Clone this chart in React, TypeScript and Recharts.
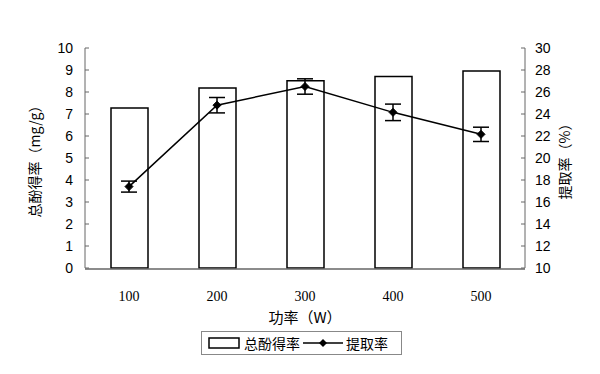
import { ComposedChart, Bar, Line, XAxis, YAxis, ErrorBar } from "recharts";

const powers = ["100", "200", "300", "400", "500"];
const phenolYield = [7.27, 8.18, 8.51, 8.7, 8.95];
const extractRate = [17.4, 24.8, 26.5, 24.15, 22.15];
const extractErr = [0.5, 0.7, 0.7, 0.75, 0.65];
const leftTicks = [0, 1, 2, 3, 4, 5, 6, 7, 8, 9, 10];
const rightTicks = [10, 12, 14, 16, 18, 20, 22, 24, 26, 28, 30];
const bandTicks = [0, 1, 2, 3, 4, 5];

const data = powers.map((p, i) => ({
  power: p,
  idx: i + 0.5,
  phenol: phenolYield[i],
  rate: extractRate[i],
  err: extractErr[i],
}));

const CJK = "'Noto Sans CJK SC', 'Noto Sans', sans-serif";
const SANS = "'Liberation Sans', Arial, sans-serif";
const SERIF = "'Liberation Serif', 'Times New Roman', serif";
const AXIS = "#666";

const Diamond = (props: any) => {
  const { cx, cy } = props;
  if (cx == null || cy == null) return null;
  const r = 4;
  return (
    <path
      d={`M${cx},${cy - r}L${cx + r},${cy}L${cx},${cy + r}L${cx - r},${cy}Z`}
      fill="#000"
      stroke="#000"
    />
  );
};

const LegendBox = () => (
  <div
    style={{
      position: "absolute",
      left: 201,
      top: 331,
      display: "flex",
      alignItems: "center",
      border: "1px solid #888",
      height: 24,
      width: 201,
      boxSizing: "border-box",
      fontFamily: CJK,
      fontSize: 14,
      color: "#000",
      paddingLeft: 6,
    }}
  >
    <svg width={32} height={12} style={{ marginRight: 4 }}>
      <rect x={1} y={1} width={30} height={10} fill="#fff" stroke="#000" strokeWidth={1.5} />
    </svg>
    <span style={{ marginRight: 3 }}>总酚得率</span>
    <svg width={40} height={12} style={{ marginRight: 3 }}>
      <line x1={0} y1={6} x2={40} y2={6} stroke="#000" strokeWidth={1.5} />
      <path d="M20,2L24,6L20,10L16,6Z" fill="#000" />
    </svg>
    <span>提取率</span>
  </div>
);

export default function App() {
  return (
    <div style={{ position: "absolute", left: 0, top: 0, width: 600, height: 374, background: "#fff" }}>
      <ComposedChart
        width={600}
        height={374}
        data={data}
        margin={{ top: 48, right: 15, bottom: 75, left: 25 }}
      >
        <XAxis
          xAxisId="band"
          type="number"
          dataKey="idx"
          domain={[0, 5]}
          ticks={bandTicks}
          tick={false}
          tickSize={-4}
          axisLine={false}
          tickLine={{ stroke: AXIS }}
          height={1}
        />
        <XAxis
          dataKey="power"
          xAxisId="cat"
          height={30}
          tickLine={false}
          axisLine={{ stroke: AXIS, strokeWidth: 1.5 }}
          tick={{ fontFamily: SERIF, fontSize: 14, fill: "#000" }}
          tickMargin={16}
          label={{
            value: "功率（W）",
            position: "insideTop",
            dy: 38,
            style: { fontFamily: CJK, fontSize: 15, fill: "#000" },
          }}
        />
        <YAxis
          yAxisId="left"
          domain={[0, 10]}
          ticks={leftTicks}
          interval={0}
          width={60}
          tickSize={-4}
          tickMargin={16}
          axisLine={{ stroke: AXIS }}
          tickLine={{ stroke: AXIS }}
          tick={{ fontFamily: SANS, fontSize: 14, fill: "#000" }}
          label={{
            value: "总酚得率（mg/g）",
            angle: -90,
            position: "insideLeft",
            dx: 5,
            dy: 0,
            style: { fontFamily: CJK, fontSize: 14, fill: "#000", textAnchor: "middle" },
          }}
        />
        <YAxis
          yAxisId="right"
          orientation="right"
          domain={[10, 30]}
          ticks={rightTicks}
          interval={0}
          width={60}
          tickSize={-4}
          tickMargin={14}
          axisLine={{ stroke: AXIS }}
          tickLine={{ stroke: AXIS }}
          tick={{ fontFamily: SANS, fontSize: 14, fill: "#000" }}
          label={{
            value: "提取率（%）",
            angle: -90,
            position: "insideRight",
            dx: -15,
            dy: 0,
            style: { fontFamily: CJK, fontSize: 14, fill: "#000", textAnchor: "middle" },
          }}
        />
        <Bar
          xAxisId="cat"
          yAxisId="left"
          dataKey="phenol"
          name="总酚得率"
          fill="#fff"
          stroke="#000"
          strokeWidth={1.5}
          barSize={37}
          isAnimationActive={false}
        />
        <Line
          xAxisId="cat"
          yAxisId="right"
          dataKey="rate"
          name="提取率"
          stroke="#000"
          strokeWidth={1.5}
          dot={<Diamond />}
          activeDot={false}
          isAnimationActive={false}
        >
          <ErrorBar dataKey="err" width={8} stroke="#000" strokeWidth={1.5} direction="y" />
        </Line>
      </ComposedChart>
      <LegendBox />
    </div>
  );
}
